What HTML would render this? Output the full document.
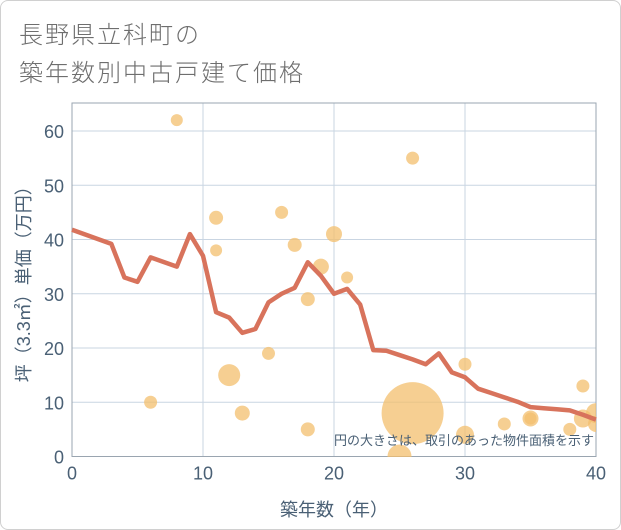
<!DOCTYPE html>
<html><head><meta charset="utf-8"><style>
body{margin:0;background:#fff;}
#wrap{position:relative;width:619px;height:528px;border:1px solid #d0d0d0;border-radius:8px;background:#fff;overflow:hidden;font-family:"Liberation Sans","Noto Sans CJK JP",sans-serif;}
.title{position:absolute;left:18px;font-size:24px;color:#6e6e6e;letter-spacing:2px;font-weight:300;}
</style></head><body>
<div id="wrap">
<div class="title" style="top:14px">長野県立科町の</div>
<div class="title" style="top:52px">築年数別中古戸建て価格</div>
<svg id="chart" width="621" height="530" style="position:absolute;left:-1px;top:-1px"><defs><clipPath id="pc"><rect x="72" y="103" width="524" height="354"/></clipPath></defs></svg>
</div>
<script>
const lineYears=[0,3,4,5,6,8,9,10,11,12,13,14,15,16,17,18,19,20,21,22,23,24,25,26,27,28,29,30,31,32,33,34,35,36,37,38,39,40];
const lineValues=[41.8,39.2,33,32.2,36.7,35,41,37,26.6,25.6,22.8,23.5,28.4,30,31.1,35.8,33.3,30,30.9,28,19.6,19.5,18.7,17.9,17,19,15.5,14.6,12.5,11.7,10.9,10.1,9.1,8.9,8.7,8.5,7.7,6.8];
const bubbleYears=[8,11,11,16,17,20,19,21,18,12,15,6,13,18,26,26,25,30,30,33,35,35,38,39,39,40,40];
const bubbleValues=[62,44,38,45,39,41,35,33,29,15,19,10,8,5,55,8,0,17,4,6,7,7,5,13,7,8,6];
const bubbleSizes=[6,7,6,6.5,7,8,8,6,7,11,6.5,6.5,7.5,7,6.5,31,12,6.5,9,6.5,8,6,6.5,6.5,9,10,8];
const xTicks=[0,10,20,30,40];
const yTicks=[0,10,20,30,40,50,60];
const NS='http://www.w3.org/2000/svg';
const svg=document.getElementById('chart');
const X0=72,X1=596,Y0=456.5,Y60=131,YT=103;
const sx=v=>X0+(X1-X0)*v/40;
const sy=v=>Y0-(Y0-Y60)*v/60;
function mk(t,a){const e=document.createElementNS(NS,t);for(const k in a)e.setAttribute(k,a[k]);svg.appendChild(e);return e;}
yTicks.forEach(v=>{
 const g=mk('line',{x1:X0,x2:X1,y1:sy(v),y2:sy(v),stroke:'#c9d5e2','stroke-width':1});
 
 
 const t=mk('text',{x:X0-8,y:sy(v)+7,'text-anchor':'end','font-size':18,fill:'#4a6075'});
 t.textContent=v;
 
 
});
xTicks.forEach(v=>{
 const g=mk('line',{x1:sx(v),x2:sx(v),y1:YT,y2:Y0,stroke:'#c9d5e2','stroke-width':1});
 
 
 const t=mk('text',{x:sx(v),y:Y0+23,'text-anchor':'middle','font-size':18,fill:'#4a6075'});
 t.textContent=v;
 
 
});
const fr=mk('rect',{x:X0,y:YT,width:X1-X0,height:Y0-YT,fill:'none',stroke:'#9aa5b0','stroke-width':1});


const gb=mk('g',{'clip-path':'url(#pc)'});


bubbleYears.forEach((yr,i)=>{
 const c=document.createElementNS(NS,'circle');
 c.setAttribute('cx',sx(yr));c.setAttribute('cy',sy(bubbleValues[i]));c.setAttribute('r',bubbleSizes[i]);
 c.setAttribute('fill','#f3bf6e');c.setAttribute('fill-opacity','0.75');
 
 
 gb.appendChild(c);
});
const pts=lineYears.map((yr,i)=>sx(yr)+','+sy(lineValues[i])).join(' ');
const pl=mk('polyline',{points:pts,fill:'none',stroke:'#d8735c','stroke-width':4.5,'stroke-linejoin':'round'});


const note=mk('text',{x:X1-2,y:445,'text-anchor':'end','font-size':13,fill:'#4a6075'});
note.textContent='円の大きさは、取引のあった物件面積を示す';


const xt=mk('text',{x:(X0+X1)/2,y:516,'text-anchor':'middle','font-size':18,fill:'#4a6075'});
xt.textContent='築年数（年）';


const yt=mk('text',{x:0,y:0,'text-anchor':'middle','font-size':18,fill:'#4a6075',transform:'translate(30,'+((YT+Y0)/2)+') rotate(-90)'});
yt.textContent='坪（3.3㎡）単価（万円）';


</script>
</body></html>
